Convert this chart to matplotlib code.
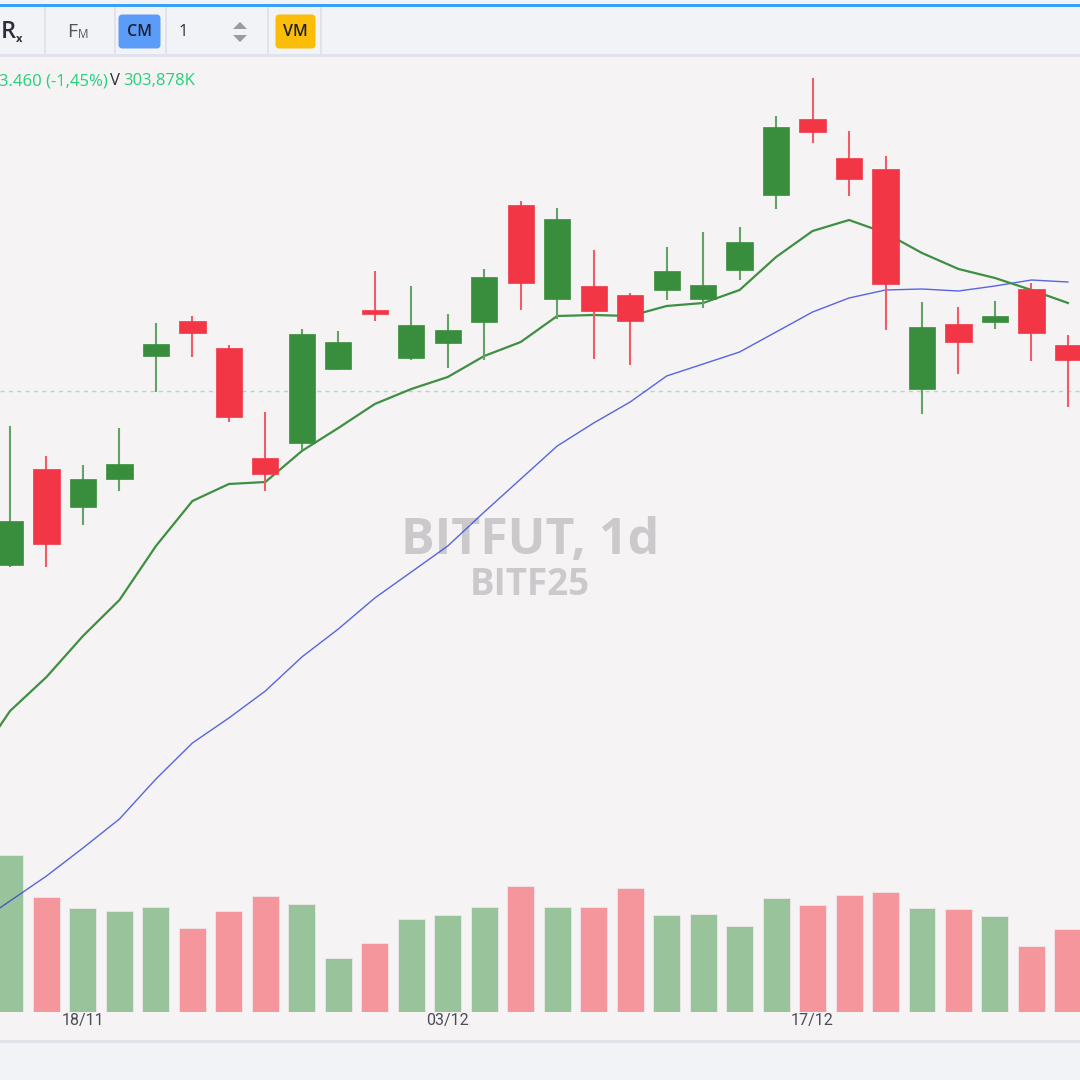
import matplotlib
matplotlib.use("Agg")
import matplotlib.pyplot as plt
import matplotlib.patches as mpatches
from matplotlib.transforms import blended_transform_factory
import numpy as np

# --- data (daily candles, price in index points, volume in K) ---
opens = [1835, 1931, 1893, 1921, 2044, 2079, 2052, 1942, 1957, 2031,
         2090, 2042, 2057, 2078, 2195, 2101, 2114, 2105, 2110, 2101,
         2130, 2205, 2281, 2242, 2231, 2011, 2076, 2078, 2111, 2055]
highs = [1974, 1944, 1935, 1972, 2077, 2084, 2055, 1988, 2071, 2069,
         2129, 2114, 2086, 2131, 2199, 2192, 2150, 2107, 2153, 2168,
         2173, 2284, 2322, 2269, 2244, 2098, 2093, 2099, 2117, 2065]
lows = [1833, 1833, 1875, 1909, 2008, 2043, 1978, 1909, 1950, 2030,
        2079, 2040, 2032, 2040, 2090, 2081, 2041, 2035, 2100, 2092,
        2120, 2191, 2257, 2204, 2070, 1986, 2026, 2071, 2039, 1993]
closes = [1879, 1856, 1921, 1936, 2056, 2067, 1983, 1926, 2066, 2058,
          2086, 2075, 2070, 2123, 2117, 2181, 2089, 2079, 2129, 2115,
          2158, 2273, 2268, 2221, 2116, 2073, 2058, 2084, 2067, 2040]
volumes = [575, 421, 381, 370, 384, 308, 370, 425, 395, 198,
           253, 340, 355, 384, 461, 384, 384, 454, 355, 359,
           315, 417, 392, 428, 439, 381, 377, 351, 242, 304]
# moving averages start one bar before the first visible candle
ma_fast = [1635, 1689, 1723, 1764, 1800, 1854, 1899, 1916, 1918, 1949, 1972,
           1996, 2011, 2023, 2044, 2058, 2084, 2085, 2084, 2094, 2097,
           2110, 2143, 2169, 2180, 2167, 2147, 2131, 2122, 2110, 2097]
ma_slow = [1474, 1499, 1524, 1552, 1581, 1621, 1657, 1682, 1709, 1743, 1771,
           1802, 1828, 1854, 1888, 1921, 1954, 1977, 1998, 2024, 2036,
           2048, 2068, 2088, 2102, 2110, 2111, 2109, 2114, 2120, 2118]
last_line = 2009
date_ticks = [2, 12, 22]
date_labels = ["18/11", "03/12", "17/12"]

UP = "#388e3c"
DOWN = "#f23645"
UP_VOL = "#99c39a"
DOWN_VOL = "#f5959c"
BG = "#f5f3f4"
BAR_BG = "#f2f3f7"
BORDER = "#e0e3eb"

W = H = 1080
fig = plt.figure(figsize=(10.8, 10.8), dpi=100)
fig.patch.set_facecolor(BG)

def fy(py):
    return 1 - py / H

# background / chrome axes in pixel coordinates
bg = fig.add_axes([0, 0, 1, 1])
bg.set_xlim(0, W)
bg.set_ylim(H, 0)
bg.axis("off")
bg.add_patch(mpatches.Rectangle((0, 0), W, 55, color=BAR_BG, lw=0))
bg.add_patch(mpatches.Rectangle((0, 3.5), W, 3, color="#3aa0f5", lw=0))
bg.add_patch(mpatches.Rectangle((0, 54), W, 3, color=BORDER, lw=0))
bg.add_patch(mpatches.Rectangle((0, 1041), W, 39, color=BAR_BG, lw=0))
bg.add_patch(mpatches.Rectangle((0, 1040), W, 2.5, color=BORDER, lw=0))
for sx in [45, 115, 166, 268, 321]:
    bg.add_patch(mpatches.Rectangle((sx - 1, 7), 2, 47, color=BORDER, lw=0))
bg.add_patch(mpatches.FancyBboxPatch((121, 17), 37, 29, boxstyle="round,pad=2.5,rounding_size=4",
                                     color="#5b9cf8", lw=0))
bg.add_patch(mpatches.FancyBboxPatch((278, 17), 35, 29, boxstyle="round,pad=2.5,rounding_size=4",
                                     color="#fbbd08", lw=0))
tb_font = ["Open Sans", "DejaVu Sans"]
bg.text(1, 32, "R", fontsize=17, color="#2a2e39", va="center", ha="left", family=tb_font,
        fontweight="semibold")
bg.text(15.5, 39, "x", fontsize=8, color="#2a2e39", va="center", ha="left", family=tb_font,
        fontweight="bold")
bg.text(67, 32, "F", fontsize=14, color="#50535e", va="center", ha="left", family=tb_font)
bg.text(78, 35, "M", fontsize=8.5, color="#50535e", va="center", ha="left", family=tb_font)
bg.text(139.5, 32, "CM", fontsize=11.5, color="#1c2030", va="center", ha="center",
        family=tb_font, fontweight="semibold")
bg.text(295.5, 32, "VM", fontsize=11.5, color="#1c2030", va="center", ha="center",
        family=tb_font, fontweight="semibold")
bg.text(179, 32, "1", fontsize=12, color="#2a2e39", va="center", ha="left", family=tb_font)
bg.add_patch(mpatches.Polygon([[233, 29], [247, 29], [240, 22]], color="#9a9aa0", lw=0))
bg.add_patch(mpatches.Polygon([[233, 35], [247, 35], [240, 42]], color="#9a9aa0", lw=0))

# watermark
bg.text(530, 541, "BITFUT, 1d", fontsize=36, fontweight="bold", color="#cbc9cc",
        ha="center", va="center", family=tb_font)
bg.text(530, 585, "BITF25", fontsize=26.5, fontweight="bold", color="#cbc9cc",
        ha="center", va="center", family=tb_font)

# header legend
bg.text(-1, 81, "3.460 (-1,45%)", fontsize=12, color="#26d07c", va="center", ha="left", family=tb_font)
bg.text(110, 81, "V", fontsize=12, color="#2a2e39", va="center", ha="left", family=tb_font)
bg.text(123, 81, "303,878K", fontsize=12, color="#26d07c", va="center", ha="left", family=tb_font)

# x range: candle 0 centred at px 10, spacing 36.48 px
step = 36.48
xlo = -10 / step
xhi = (W - 10) / step
x = np.arange(len(opens))
xm = np.arange(-1, len(ma_fast) - 1)

# volume axes (bars start at px 1012)
axv = fig.add_axes([0, fy(1012), 1, (1012 - 57) / H])
axv.patch.set_alpha(0)
axv.set_xlim(xlo, xhi)
axv.set_ylim(0, (1012 - 57) * 3.661)
vcol = [UP_VOL if c >= o else DOWN_VOL for o, c in zip(opens, closes)]
axv.bar(x, volumes, width=0.74, color=vcol, edgecolor="#f0e6ea", linewidth=0.6)
axv.axis("off")

# price axes
ax = fig.add_axes([0, fy(1040), 1, (1040 - 57) / H])
ax.patch.set_alpha(0)
ax.set_xlim(xlo, xhi)
ax.set_ylim(2400 - 1040, 2400 - 57)
ax.axis("off")

ax.axhline(last_line, color="#9fe3c1", lw=1, ls=(0, (3, 3)), zorder=1)
ax.plot(xm, ma_slow, color="#2f42dc", lw=1.0, alpha=0.8, zorder=2)
ax.plot(xm, ma_fast, color="#3f8f43", lw=1.6, zorder=2)

ccol = [UP if c >= o else DOWN for o, c in zip(opens, closes)]
wcol = ["#63a466" if c >= o else "#f35b68" for o, c in zip(opens, closes)]
ax.vlines(x, lows, highs, colors=wcol, lw=1.5, zorder=3)
bottoms = [min(o, c) for o, c in zip(opens, closes)]
heights = [max(abs(c - o), 1.5) for o, c in zip(opens, closes)]
ax.bar(x, heights, bottom=bottoms, width=0.72, color=ccol, edgecolor=ccol,
       linewidth=0.5, zorder=4)

# date labels
tr = blended_transform_factory(ax.transData, bg.transData)
for t, lab in zip(date_ticks, date_labels):
    bg.text(t, 1021, lab, transform=tr, ha="center", va="center", fontsize=11.5,
            color="#4a4c58", family=["Roboto", "DejaVu Sans"])

fig.savefig("out.png", dpi=100, facecolor=fig.get_facecolor())
